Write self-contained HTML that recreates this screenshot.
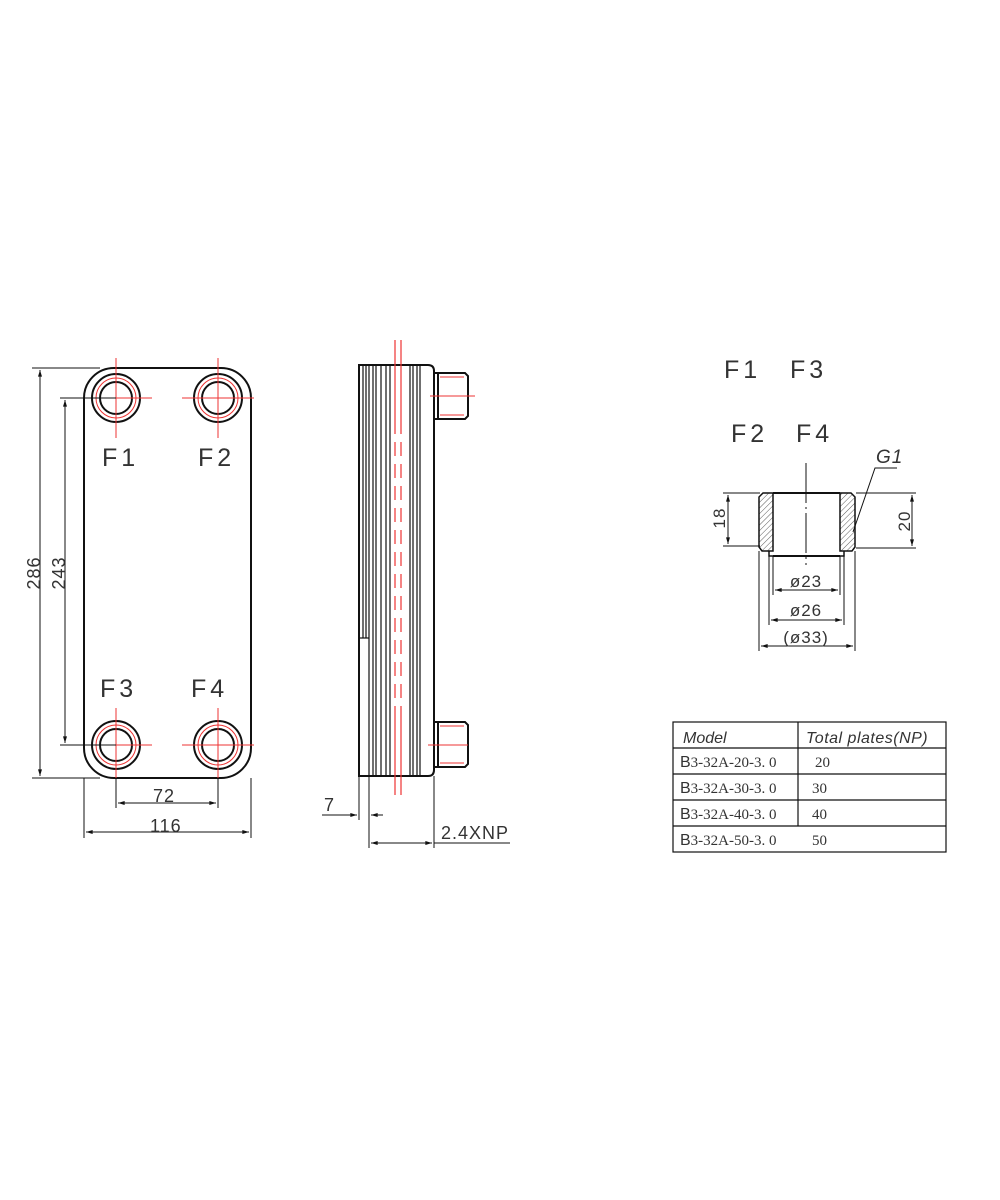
<!DOCTYPE html>
<html><head><meta charset="utf-8"><style>body{margin:0;background:#fff}svg{display:block}</style></head>
<body>
<svg width="1000" height="1200" viewBox="0 0 1000 1200" xmlns="http://www.w3.org/2000/svg" font-family="Liberation Sans, sans-serif" fill="none" stroke="#111">
<defs>
<marker id="a" viewBox="0 0 10 6" refX="10" refY="3" markerWidth="8" markerHeight="4" orient="auto-start-reverse"><path d="M0,0 L10,3 L0,6z" fill="#111" stroke="none"/></marker>
<pattern id="h" width="4" height="4" patternUnits="userSpaceOnUse" patternTransform="rotate(45)"><line x1="0" y1="0" x2="0" y2="4" stroke="#333" stroke-width="0.8"/></pattern>
</defs>
<!-- FRONT VIEW -->
<rect x="84" y="368" width="167" height="410" rx="30" stroke-width="2"/>
<g stroke-width="2">
<circle cx="116" cy="398" r="24"/><circle cx="116" cy="398" r="16"/>
<circle cx="218" cy="398" r="24"/><circle cx="218" cy="398" r="16"/>
<circle cx="116" cy="745" r="24"/><circle cx="116" cy="745" r="16"/>
<circle cx="218" cy="745" r="24"/><circle cx="218" cy="745" r="16"/>
</g>
<g stroke="#e33" stroke-width="1">
<circle cx="116" cy="398" r="20"/><circle cx="218" cy="398" r="20"/><circle cx="116" cy="745" r="20"/><circle cx="218" cy="745" r="20"/>
<line x1="92" y1="398" x2="152" y2="398"/><line x1="116" y1="358" x2="116" y2="438"/>
<line x1="182" y1="398" x2="254" y2="398"/><line x1="218" y1="358" x2="218" y2="438"/>
<line x1="92" y1="745" x2="152" y2="745"/><line x1="116" y1="708" x2="116" y2="778"/>
<line x1="182" y1="745" x2="254" y2="745"/><line x1="218" y1="708" x2="218" y2="778"/>
</g>
<g stroke-width="1">
<line x1="32" y1="368" x2="100" y2="368"/><line x1="32" y1="778" x2="100" y2="778"/>
<line x1="40" y1="370" x2="40" y2="776" marker-start="url(#a)" marker-end="url(#a)"/>
<line x1="60" y1="398" x2="116" y2="398"/><line x1="60" y1="745" x2="116" y2="745"/>
<line x1="65" y1="400" x2="65" y2="743" marker-start="url(#a)" marker-end="url(#a)"/>
<line x1="116" y1="778" x2="116" y2="808"/><line x1="218" y1="778" x2="218" y2="808"/>
<line x1="118" y1="803" x2="216" y2="803" marker-start="url(#a)" marker-end="url(#a)"/>
<line x1="84" y1="778" x2="84" y2="838"/><line x1="251" y1="778" x2="251" y2="838"/>
<line x1="86" y1="832" x2="249" y2="832" marker-start="url(#a)" marker-end="url(#a)"/>
</g>
<g fill="#333" stroke="none" font-size="25" letter-spacing="4">
<text x="102" y="466">F1</text><text x="198" y="466">F2</text>
<text x="100" y="697">F3</text><text x="191" y="697">F4</text>
</g>
<g fill="#333" stroke="none" font-size="18" letter-spacing="1">
<text x="153" y="802">72</text><text x="150" y="832">116</text>
<text transform="translate(40,573) rotate(-90)" text-anchor="middle">286</text>
<text transform="translate(65,573) rotate(-90)" text-anchor="middle">243</text>
</g>
<!-- SIDE VIEW -->
<path d="M359,365 H428 Q434,365 434,371 V770 Q434,776 428,776 H359 Z" stroke-width="2"/>
<g stroke-width="1.2">
<line x1="363" y1="365" x2="363" y2="638"/><line x1="366" y1="365" x2="366" y2="638"/>
<line x1="369" y1="365" x2="369" y2="776"/><line x1="373" y1="365" x2="373" y2="776"/>
<line x1="376" y1="365" x2="376" y2="776"/><line x1="381" y1="365" x2="381" y2="776"/>
<line x1="386" y1="365" x2="386" y2="776"/><line x1="390" y1="365" x2="390" y2="776"/>
<line x1="410" y1="365" x2="410" y2="776"/><line x1="413" y1="365" x2="413" y2="776"/>
<line x1="417" y1="365" x2="417" y2="776"/><line x1="420" y1="365" x2="420" y2="776"/>
<line x1="359" y1="638" x2="369" y2="638"/>
</g>
<g stroke="#e33" stroke-width="1.2">
<line x1="395" y1="340" x2="395" y2="420"/><line x1="401" y1="340" x2="401" y2="420"/>
<line x1="395" y1="420" x2="395" y2="720" stroke-dasharray="14,8"/><line x1="401" y1="420" x2="401" y2="720" stroke-dasharray="14,8"/>
<line x1="395" y1="720" x2="395" y2="795"/><line x1="401" y1="720" x2="401" y2="795"/>
</g>
<g stroke-width="2">
<path d="M434,373 H465 L468,376 V416 L465,419 H434"/><line x1="438" y1="373" x2="438" y2="419"/>
<path d="M434,722 H465 L468,725 V764 L465,767 H434"/><line x1="438" y1="722" x2="438" y2="767"/>
</g>
<g stroke="#e33" stroke-width="1"><line x1="430" y1="396" x2="475" y2="396"/><line x1="428" y1="745" x2="468" y2="745"/>
<line x1="440" y1="377" x2="464" y2="377"/><line x1="440" y1="415" x2="464" y2="415"/><line x1="440" y1="726" x2="464" y2="726"/><line x1="440" y1="763" x2="464" y2="763"/></g>
<g stroke-width="1">
<line x1="359" y1="776" x2="359" y2="820"/><line x1="369" y1="776" x2="369" y2="848"/><line x1="434" y1="776" x2="434" y2="848"/>
<line x1="322" y1="815" x2="357" y2="815" marker-end="url(#a)"/><line x1="383" y1="815" x2="371" y2="815" marker-end="url(#a)"/>
<line x1="371" y1="843" x2="432" y2="843" marker-start="url(#a)" marker-end="url(#a)"/><line x1="434" y1="843" x2="510" y2="843"/>
</g>
<g fill="#333" stroke="none" font-size="18" letter-spacing="1">
<text x="324" y="811">7</text><text x="441" y="839">2.4XNP</text>
</g>
<!-- DETAIL -->
<g fill="#333" stroke="none" font-size="25" letter-spacing="4">
<text x="724" y="378">F1</text><text x="790" y="378">F3</text>
<text x="731" y="442">F2</text><text x="796" y="442">F4</text>
</g>
<path d="M763,493 H773 V551 H762 L759,547 V497 Z" fill="url(#h)" stroke-width="1.5"/>
<path d="M840,493 H851 L855,497 V547 L852,551 H840 Z" fill="url(#h)" stroke-width="1.5"/>
<g stroke-width="1.5">
<line x1="773" y1="493" x2="840" y2="493" stroke-width="2"/>
<path d="M769,551 V556 H844 V551"/><line x1="773" y1="556" x2="840" y2="556" stroke-width="2"/>
</g>
<line x1="806" y1="463" x2="806" y2="565" stroke-width="1" stroke-dasharray="40,4,2,4"/>
<g stroke-width="1">
<line x1="723" y1="493" x2="760" y2="493"/><line x1="723" y1="546" x2="760" y2="546"/>
<line x1="728" y1="495" x2="728" y2="544" marker-start="url(#a)" marker-end="url(#a)"/>
<line x1="856" y1="493" x2="916" y2="493"/><line x1="856" y1="548" x2="916" y2="548"/>
<line x1="912" y1="495" x2="912" y2="546" marker-start="url(#a)" marker-end="url(#a)"/>
<line x1="773" y1="556" x2="773" y2="595"/><line x1="840" y1="556" x2="840" y2="595"/>
<line x1="775" y1="590" x2="838" y2="590" marker-start="url(#a)" marker-end="url(#a)"/>
<line x1="769" y1="556" x2="769" y2="625"/><line x1="844" y1="556" x2="844" y2="625"/>
<line x1="771" y1="620" x2="842" y2="620" marker-start="url(#a)" marker-end="url(#a)"/>
<line x1="759" y1="551" x2="759" y2="651"/><line x1="855" y1="551" x2="855" y2="651"/>
<line x1="761" y1="646" x2="853" y2="646" marker-start="url(#a)" marker-end="url(#a)"/>
<polyline points="853,532 875,468 897,468"/>
</g>
<g fill="#333" stroke="none" font-size="17" letter-spacing="1">
<text x="806" y="587" text-anchor="middle">ø23</text>
<text x="806" y="616" text-anchor="middle">ø26</text>
<text x="806" y="643" text-anchor="middle">(ø33)</text>
<text transform="translate(725,518) rotate(-90)" text-anchor="middle">18</text>
<text transform="translate(910,521) rotate(-90)" text-anchor="middle">20</text>
<text x="876" y="463" font-style="italic" font-size="19">G1</text>
</g>
<!-- TABLE -->
<g stroke-width="1.2">
<rect x="673" y="722" width="273" height="130"/>
<line x1="673" y1="748" x2="946" y2="748"/><line x1="673" y1="774" x2="946" y2="774"/>
<line x1="673" y1="800" x2="946" y2="800"/><line x1="673" y1="826" x2="946" y2="826"/>
<line x1="798" y1="722" x2="798" y2="826"/>
</g>
<g fill="#333" stroke="none" font-size="16">
<text x="683" y="743" font-style="italic">Model</text>
<text x="806" y="743" font-style="italic" letter-spacing="0.5">Total plates(NP)</text>
<g font-family="Liberation Serif, serif" font-size="15">
<text x="680" y="767"><tspan font-family="Liberation Sans, sans-serif" font-size="16">B</tspan>3-32A-20-3. 0</text>
<text x="680" y="793"><tspan font-family="Liberation Sans, sans-serif" font-size="16">B</tspan>3-32A-30-3. 0</text>
<text x="680" y="819"><tspan font-family="Liberation Sans, sans-serif" font-size="16">B</tspan>3-32A-40-3. 0</text>
<text x="680" y="845"><tspan font-family="Liberation Sans, sans-serif" font-size="16">B</tspan>3-32A-50-3. 0</text>
<text x="815" y="767">20</text><text x="812" y="793">30</text><text x="812" y="819">40</text><text x="812" y="845">50</text>
</g>
</g>
</svg>
</body></html>
